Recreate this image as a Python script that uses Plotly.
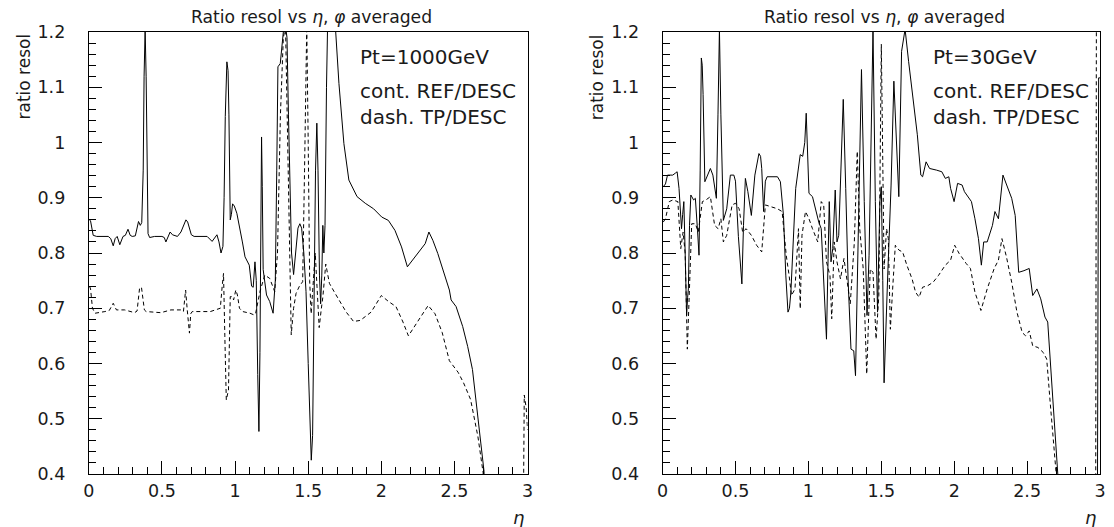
import plotly.graph_objects as go

# ---------------- data ----------------
# Left panel: Pt = 1000 GeV
left_ref_eta = [0.005, 0.012, 0.03, 0.054, 0.133, 0.15, 0.167, 0.18, 0.194, 0.212, 0.234, 0.25, 0.268, 0.283,
                0.297, 0.318, 0.34, 0.352, 0.362, 0.372, 0.378, 0.385, 0.392, 0.398, 0.405, 0.416, 0.45, 0.5,
                0.516, 0.527, 0.545, 0.556, 0.572, 0.606, 0.63, 0.651, 0.664, 0.676, 0.69, 0.701, 0.72, 0.809,
                0.843, 0.876, 0.89, 0.904, 0.917, 0.925, 0.933, 0.944, 0.952, 0.958, 0.967, 0.975, 0.983, 0.995,
                1.012, 1.035, 1.05, 1.068, 1.085, 1.097, 1.113, 1.124, 1.136, 1.145, 1.155, 1.163, 1.17, 1.176,
                1.181, 1.186, 1.192, 1.215, 1.237, 1.26, 1.275, 1.285, 1.293, 1.309, 1.32, 1.33, 1.345, 1.355,
                1.365, 1.375, 1.386, 1.4, 1.415, 1.43, 1.443, 1.455, 1.47, 1.485, 1.5, 1.512, 1.521, 1.53, 1.54,
                1.55, 1.559, 1.567, 1.577, 1.585, 1.593, 1.6, 1.607, 1.615, 1.625, 1.635, 1.65, 1.665, 1.68,
                1.688, 1.71, 1.744, 1.778, 1.834, 1.89, 1.947, 2.003, 2.048, 2.093, 2.138, 2.178, 2.228, 2.284,
                2.3, 2.325, 2.352, 2.386, 2.42, 2.465, 2.477, 2.511, 2.556, 2.59, 2.623, 2.657, 2.68, 2.702,
                2.72, 3.0]
left_ref_val = [0.86, 0.858, 0.832, 0.83, 0.83, 0.826, 0.813, 0.826, 0.83, 0.815, 0.83, 0.832, 0.843, 0.832,
                0.83, 0.831, 0.857, 0.85, 0.855, 0.95, 1.12, 1.205, 1.12, 0.95, 0.835, 0.828, 0.83, 0.83,
                0.828, 0.82, 0.83, 0.838, 0.833, 0.83, 0.838, 0.854, 0.86, 0.856, 0.84, 0.833, 0.83, 0.83,
                0.821, 0.833, 0.82, 0.8, 0.812, 0.9, 1.047, 1.146, 1.13, 1.05, 0.86, 0.87, 0.889, 0.885,
                0.872, 0.843, 0.82, 0.793, 0.785, 0.778, 0.74, 0.738, 0.784, 0.75, 0.58, 0.477, 0.62, 0.92,
                1.01, 0.92, 0.77, 0.724, 0.712, 0.691, 0.75, 0.95, 1.137, 1.143, 1.17, 1.2, 1.21, 1.19,
                1.05, 0.93, 0.8, 0.761, 0.8, 0.845, 0.853, 0.845, 0.8, 0.73, 0.6, 0.47, 0.425, 0.47, 0.7,
                0.95, 1.035, 0.95, 0.76, 0.708, 0.76, 0.85, 0.8, 0.85, 1.1, 1.25, 1.3, 1.26, 1.21,
                1.2, 1.107, 0.998, 0.932, 0.902, 0.89, 0.88, 0.865, 0.859, 0.841, 0.811, 0.775, 0.793, 0.811,
                0.817, 0.838, 0.823, 0.799, 0.769, 0.733, 0.715, 0.703, 0.667, 0.631, 0.589, 0.516, 0.456, 0.405,
                0.0, 0.0]

left_tp_eta = [0.005, 0.012, 0.025, 0.043, 0.11, 0.14, 0.167, 0.189, 0.245, 0.313, 0.33, 0.347, 0.36, 0.369,
               0.38, 0.392, 0.493, 0.561, 0.628, 0.647, 0.662, 0.672, 0.68, 0.688, 0.697, 0.707, 0.831, 0.899,
               0.912, 0.921, 0.93, 0.94, 0.955, 0.962, 0.967, 0.982, 0.99, 1.005, 1.016, 1.03, 1.052, 1.102,
               1.129, 1.14, 1.17, 1.203, 1.237, 1.271, 1.29, 1.31, 1.33, 1.345, 1.36, 1.373, 1.384, 1.4, 1.417,
               1.44, 1.462, 1.475, 1.49, 1.5, 1.51, 1.52, 1.535, 1.548, 1.56, 1.575, 1.59, 1.6, 1.62, 1.645,
               1.686, 1.76, 1.81, 1.856, 1.93, 2.0, 2.05, 2.1, 2.148, 2.185, 2.246, 2.32, 2.367, 2.416, 2.465,
               2.525, 2.562, 2.61, 2.66, 2.696, 2.71, 2.962, 2.977, 2.99, 3.0]
left_tp_val = [0.74, 0.735, 0.7, 0.691, 0.694, 0.696, 0.709, 0.697, 0.697, 0.692, 0.695, 0.736, 0.738, 0.72,
               0.697, 0.694, 0.692, 0.697, 0.697, 0.694, 0.733, 0.7, 0.68, 0.655, 0.69, 0.694, 0.694, 0.7,
               0.74, 0.763, 0.65, 0.534, 0.552, 0.68, 0.721, 0.721, 0.715, 0.733, 0.724, 0.7, 0.694, 0.691,
               0.688, 0.69, 0.73, 0.76, 0.754, 0.73, 0.8, 1.05, 1.19, 1.21, 1.0, 0.8, 0.652, 0.7, 0.727,
               0.74, 0.748, 0.95, 1.21, 1.0, 0.75, 0.69, 0.75, 0.8, 0.74, 0.665, 0.7, 0.72, 0.78, 0.745,
               0.726, 0.693, 0.676, 0.678, 0.693, 0.723, 0.712, 0.703, 0.675, 0.65, 0.675, 0.705, 0.69, 0.656, 0.605,
               0.584, 0.565, 0.535, 0.468, 0.402, 0.0, 0.0, 0.543, 0.52, 0.48]

# Right panel: Pt = 30 GeV
right_ref_eta = [0.005, 0.02, 0.034, 0.07, 0.09, 0.1, 0.113, 0.13, 0.138, 0.146, 0.155, 0.165, 0.172, 0.177,
                 0.185, 0.194, 0.213, 0.225, 0.24, 0.25, 0.258, 0.266, 0.272, 0.278, 0.29, 0.309, 0.328, 0.345,
                 0.369, 0.38, 0.39, 0.4, 0.41, 0.417, 0.44, 0.465, 0.489, 0.5, 0.52, 0.544, 0.555, 0.568, 0.585,
                 0.609, 0.633, 0.661, 0.672, 0.68, 0.693, 0.705, 0.717, 0.788, 0.808, 0.829, 0.845, 0.86, 0.87,
                 0.88, 0.913, 0.944, 0.961, 0.975, 0.985, 0.995, 1.004, 1.028, 1.071, 1.088, 1.105, 1.124, 1.135,
                 1.143, 1.155, 1.167, 1.184, 1.196, 1.208, 1.225, 1.239, 1.256, 1.272, 1.292, 1.311, 1.323, 1.34,
                 1.352, 1.364, 1.383, 1.402, 1.416, 1.43, 1.443, 1.459, 1.474, 1.49, 1.5, 1.51, 1.519, 1.543,
                 1.567, 1.586, 1.603, 1.62, 1.639, 1.663, 1.687, 1.723, 1.747, 1.771, 1.783, 1.807, 1.831, 1.879,
                 1.915, 1.939, 1.963, 1.975, 1.999, 2.023, 2.054, 2.07, 2.094, 2.118, 2.142, 2.166, 2.186, 2.202,
                 2.226, 2.262, 2.279, 2.303, 2.334, 2.37, 2.394, 2.418, 2.442, 2.478, 2.514, 2.538, 2.567, 2.593,
                 2.622, 2.641, 2.662, 2.686, 2.71, 2.72, 2.978, 2.99, 3.0]
right_ref_val = [0.92, 0.925, 0.941, 0.941, 0.945, 0.947, 0.917, 0.844, 0.87, 0.893, 0.8, 0.687, 0.72, 0.735,
                 0.85, 0.905, 0.896, 0.899, 0.84, 0.796, 0.95, 1.153, 1.14, 1.087, 0.929, 0.941, 0.953, 0.941,
                 0.899, 1.05, 1.205, 1.05, 0.917, 0.859, 0.88, 0.941, 0.941, 0.93, 0.83, 0.744, 0.85, 0.935, 0.911,
                 0.868, 0.941, 0.98, 0.975, 0.953, 0.875, 0.93, 0.938, 0.938, 0.929, 0.868, 0.76, 0.693, 0.7,
                 0.729, 0.917, 0.978, 0.975, 1.0, 1.053, 0.96, 0.908, 0.902, 0.856, 0.844, 0.74, 0.644, 0.79,
                 0.893, 0.784, 0.808, 0.914, 0.82, 0.832, 0.96, 1.078, 0.917, 0.753, 0.626, 0.623, 0.578, 0.784,
                 0.98, 1.132, 0.893, 0.687, 0.796, 1.0, 1.205, 0.893, 0.693, 0.893, 0.92, 0.75, 0.565, 0.753,
                 0.923, 1.111, 1.014, 0.902, 1.165, 1.205, 1.147, 1.072, 1.014, 0.941, 0.938, 0.965, 0.953, 0.95,
                 0.947, 0.935, 0.938, 0.917, 0.893, 0.926, 0.923, 0.911, 0.902, 0.893, 0.862, 0.826, 0.778, 0.82,
                 0.82, 0.85, 0.875, 0.862, 0.941, 0.917, 0.899, 0.868, 0.765, 0.768, 0.772, 0.723, 0.735, 0.717,
                 0.684, 0.675, 0.59, 0.499, 0.4, 0.0, 0.0, 1.117, 1.117]

right_tp_eta = [0.005, 0.02, 0.046, 0.07, 0.105, 0.125, 0.141, 0.155, 0.17, 0.185, 0.2, 0.225, 0.245, 0.273,
                0.297, 0.328, 0.357, 0.381, 0.4, 0.417, 0.44, 0.477, 0.5, 0.525, 0.549, 0.573, 0.609, 0.645,
                0.68, 0.705, 0.74, 0.788, 0.82, 0.848, 0.868, 0.884, 0.908, 0.932, 0.944, 0.956, 0.98, 1.004,
                1.028, 1.064, 1.088, 1.105, 1.124, 1.148, 1.16, 1.177, 1.196, 1.22, 1.244, 1.263, 1.287, 1.315,
                1.335, 1.352, 1.376, 1.4, 1.424, 1.443, 1.464, 1.483, 1.5, 1.519, 1.536, 1.548, 1.562, 1.579,
                1.596, 1.622, 1.646, 1.675, 1.711, 1.735, 1.759, 1.783, 1.819, 1.855, 1.891, 1.939, 1.975, 2.003,
                2.034, 2.082, 2.111, 2.142, 2.183, 2.226, 2.274, 2.303, 2.327, 2.358, 2.394, 2.43, 2.466, 2.49,
                2.514, 2.538, 2.574, 2.61, 2.634, 2.658, 2.682, 2.699, 2.71, 2.968, 2.975, 3.0]
right_tp_val = [0.856, 0.862, 0.893, 0.896, 0.893, 0.808, 0.838, 0.80, 0.626, 0.729, 0.853, 0.853, 0.838, 0.893,
                0.896, 0.902, 0.85, 0.844, 0.862, 0.82, 0.832, 0.887, 0.89, 0.88, 0.838, 0.844, 0.832, 0.814,
                0.802, 0.887, 0.884, 0.88, 0.875, 0.796, 0.759, 0.723, 0.735, 0.844, 0.699, 0.832, 0.875, 0.862,
                0.844, 0.82, 0.893, 0.887, 0.784, 0.759, 0.681, 0.82, 0.784, 0.753, 0.79, 0.753, 0.708, 0.82,
                0.984, 0.844, 0.771, 0.581, 0.771, 0.765, 0.644, 0.723, 1.178, 0.771, 0.844, 0.826, 0.662, 0.741,
                0.814, 0.805, 0.802, 0.778, 0.753, 0.729, 0.72, 0.738, 0.741, 0.747, 0.759, 0.778, 0.787, 0.814,
                0.799, 0.781, 0.772, 0.729, 0.696, 0.735, 0.772, 0.787, 0.826, 0.793, 0.747, 0.693, 0.656, 0.65,
                0.659, 0.632, 0.629, 0.62, 0.608, 0.529, 0.45, 0.4, 0.0, 0.0, 1.3, 1.3]

panel_titles = ["Ratio resol vs <i>η</i>, <i>φ</i> averaged", "Ratio resol vs <i>η</i>, <i>φ</i> averaged"]
pt_labels = ["Pt=1000GeV", "Pt=30GeV"]
legend_lines = ["cont. REF/DESC", "dash. TP/DESC"]
y_title = "ratio resol"
x_title = "<i>η</i>"

# ---------------- figure ----------------
W, H = 1114, 527
FONT = "DejaVu Sans"
TXT = "#1a1a1a"
fig = go.Figure()

series = [
    (left_ref_eta, left_ref_val, "solid", "x", "y"),
    (left_tp_eta, left_tp_val, "4px,3px", "x", "y"),
    (right_ref_eta, right_ref_val, "solid", "x2", "y2"),
    (right_tp_eta, right_tp_val, "4px,3px", "x2", "y2"),
]
for xs, ys, dash, xa, ya in series:
    fig.add_trace(go.Scatter(x=xs, y=ys, mode="lines", xaxis=xa, yaxis=ya,
                             line=dict(color="black", width=1, dash=dash),
                             showlegend=False, hoverinfo="skip"))

frames = [(83.7, 527.3), (663.7, 1106.0)]
top, bottom = 32, 474

def xaxis_cfg(dom):
    return dict(domain=dom, range=[0, 3], showline=True, linecolor="black", linewidth=1, mirror=True,
                ticks="inside", ticklen=13, tickwidth=1, tickcolor="black", tick0=0, dtick=0.5,
                minor=dict(ticks="inside", ticklen=7, tickwidth=1, tickcolor="black", dtick=0.1, tick0=0),
                showgrid=False, zeroline=False, tickfont=dict(family=FONT, size=17.5, color=TXT),
                ticklabelstandoff=1, fixedrange=True)

def yaxis_cfg(anchor):
    return dict(domain=[0, 1], range=[0.4, 1.2], anchor=anchor, showline=True, linecolor="black", linewidth=1,
                mirror=True, ticks="inside", ticklen=13, tickwidth=1, tickcolor="black", tick0=0.4, dtick=0.1,
                minor=dict(ticks="inside", ticklen=7, tickwidth=1, tickcolor="black", dtick=0.02, tick0=0.4),
                showgrid=False, zeroline=False, tickfont=dict(family=FONT, size=17.5, color=TXT),
                ticklabelstandoff=19, fixedrange=True)

d1 = [frames[0][0] / W, frames[0][1] / W]
d2 = [frames[1][0] / W, frames[1][1] / W]
fig.update_layout(
    width=W, height=H, autosize=False,
    margin=dict(l=0, r=0, t=top, b=H - bottom, pad=0),
    paper_bgcolor="white", plot_bgcolor="white",
    xaxis=dict(**xaxis_cfg(d1), anchor="y"),
    yaxis=yaxis_cfg("x"),
    xaxis2=dict(**xaxis_cfg(d2), anchor="y2"),
    yaxis2=yaxis_cfg("x2"),
)

ph = bottom - top
annotations = []
for i, (fl, fr) in enumerate(frames):
    xref = "x domain" if i == 0 else "x2 domain"
    yref = "y domain" if i == 0 else "y2 domain"
    # panel title
    annotations.append(dict(text=panel_titles[i], xref="paper", yref="paper",
                            x=((fl + fr) / 2 + 3) / W, y=(bottom - 17) / ph,
                            xanchor="center", yanchor="middle", showarrow=False,
                            font=dict(family=FONT, size=17.2, color=TXT)))
    # y title (rotated, at the top of the axis)
    annotations.append(dict(text=y_title, xref="paper", yref="paper",
                            x=(fl - 66) / W, y=1.0, textangle=-90,
                            xanchor="center", yanchor="top", showarrow=False,
                            font=dict(family=FONT, size=17, color=TXT)))
    # x title
    annotations.append(dict(text=x_title, xref="paper", yref="paper",
                            x=(fr - 2) / W, y=(bottom - 517) / ph,
                            xanchor="right", yanchor="middle", showarrow=False,
                            font=dict(family=FONT, size=18, color=TXT)))
    # labels inside the frame
    annotations.append(dict(text=pt_labels[i], xref=xref, yref=yref, x=0.614,
                            y=(bottom - 57) / ph, xanchor="left", yanchor="middle",
                            showarrow=False, font=dict(family=FONT, size=20, color=TXT)))
    annotations.append(dict(text="<br>".join(legend_lines), xref=xref, yref=yref, x=0.614,
                            y=(bottom - 104) / ph, xanchor="left", yanchor="middle", align="left",
                            showarrow=False, font=dict(family=FONT, size=20, color=TXT)))
fig.update_layout(annotations=annotations)

fig.write_html("out.html")
